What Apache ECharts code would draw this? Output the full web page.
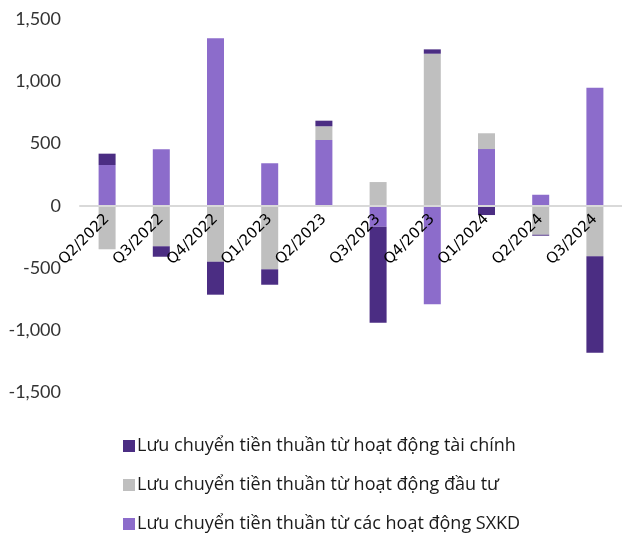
<!DOCTYPE html>
<html>
<head>
<meta charset="utf-8">
<script src="https://cdn.jsdelivr.net/npm/echarts@6/dist/echarts.min.js"></script>
<style>
  html, body { margin: 0; padding: 0; background: #fff; }
  #chart { width: 622px; height: 533px; }
</style>
</head>
<body>
<div id="chart"></div>
<script>
var quarters = ['Q2/2022', 'Q3/2022', 'Q4/2022', 'Q1/2023', 'Q2/2023', 'Q3/2023', 'Q4/2023', 'Q1/2024', 'Q2/2024', 'Q3/2024'];
// Lưu chuyển tiền thuần từ các hoạt động SXKD
var sxkd = [327, 453, 1345, 341, 528, -169, -792, 455, 88, 948];
// Lưu chuyển tiền thuần từ hoạt động đầu tư
var dauTu = [-350, -326, -450, -511, 110, 190, 1221, 127, -233, -407];
// Lưu chuyển tiền thuần từ hoạt động tài chính
var taiChinh = [91, -84, -265, -124, 45, -771, 35, -75, -8, -774];
var yTicks = [-1500, -1000, -500, 0, 500, 1000, 1500];

var names = [
    'Lưu chuyển tiền thuần từ hoạt động tài chính',
    'Lưu chuyển tiền thuần từ hoạt động đầu tư',
    'Lưu chuyển tiền thuần từ các hoạt động SXKD'
];

var myChart = echarts.init(document.getElementById('chart'));

function bar(name, data, color) {
    return {
        name: name,
        type: 'bar',
        stack: 'cf',
        barWidth: 17,
        data: data,
        itemStyle: { color: color }
    };
}

var option = {
    backgroundColor: '#fff',
    animation: false,
    grid: { left: 80, width: 549, top: 19, height: 373.4 },
    legend: {
        orient: 'vertical',
        left: 118,
        top: 432,
        height: 120,
        itemWidth: 12,
        itemHeight: 12,
        itemGap: 21,
        icon: 'rect',
        data: names,
        textStyle: { fontFamily: 'Open Sans', fontSize: 18, color: '#1a1a1a', padding: [0, 0, 0, -3] }
    },
    xAxis: {
        type: 'category',
        data: quarters,
        z: 10,
        offset: -186.7,
        axisLine: { onZero: false, lineStyle: { color: '#d9d9d9', width: 2 } },
        axisTick: { show: false },
        axisLabel: {
            rotate: 45,
            margin: 11,
            interval: 0,
            fontFamily: 'DejaVu Sans',
            fontSize: 15,
            color: '#000'
        }
    },
    yAxis: {
        type: 'value',
        min: -1500,
        max: 1500,
        interval: 500,
        splitLine: { show: false },
        axisLine: { show: false },
        axisTick: { show: false },
        axisLabel: {
            margin: 19,
            fontFamily: 'Lato',
            fontSize: 18,
            color: '#333',
            formatter: function (v) {
                return yTicks.indexOf(v) >= 0 ? v.toLocaleString('en-US') : '';
            }
        }
    },
    series: [
        bar(names[2], sxkd, '#8c6ccb'),
        bar(names[1], dauTu, '#bfbfbf'),
        bar(names[0], taiChinh, '#4b2d83')
    ]
};
myChart.setOption(option);
</script>
</body>
</html>
